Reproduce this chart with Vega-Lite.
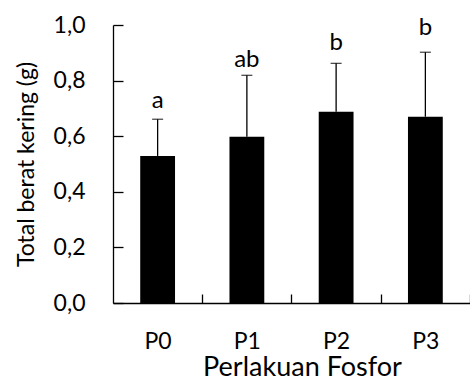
{
  "$schema": "https://vega.github.io/schema/vega-lite/v6.json",
  "width": 357,
  "height": 278,
  "autosize": "none",
  "padding": {"left": 113, "top": 25, "right": 0, "bottom": 78},
  "background": "white",
  "data": {"values": [
    {"p": "P0", "value": 0.529, "upper": 0.661, "letter": "a", "label_y": 0.700},
    {"p": "P1", "value": 0.598, "upper": 0.819, "letter": "ab", "label_y": 0.850},
    {"p": "P2", "value": 0.688, "upper": 0.862, "letter": "b", "label_y": 0.910},
    {"p": "P3", "value": 0.670, "upper": 0.902, "letter": "b", "label_y": 0.964}
  ]},
  "config": {
    "view": {"stroke": null},
    "font": "Lato",
    "axis": {"grid": false, "domainColor": "black", "tickColor": "black", "domainWidth": 1.3, "tickWidth": 1.3, "labelColor": "black", "titleColor": "black", "labelFont": "Lato", "titleFont": "Lato", "labelFontSize": 23, "titleFontSize": 23, "titleFontWeight": "normal"}
  },
  "encoding": {
    "x": {"field": "p", "type": "nominal", "title": "Perlakuan Fosfor",
      "scale": {"paddingInner": 0.61, "paddingOuter": 0.305},
      "axis": {"labelAngle": 0, "tickOffset": 44.6, "labelOffset": -44.6, "tickSize": -9, "labelPadding": 36, "titlePadding": 1, "titleFontSize": 27, "titleX": 189}}
  },
  "layer": [
    {"mark": {"type": "bar", "color": "black"},
     "encoding": {"y": {"field": "value", "type": "quantitative", "title": "Total berat kering (g)",
       "scale": {"domain": [0, 1], "nice": false},
       "axis": {"values": [0, 0.2, 0.4, 0.6, 0.8, 1.0], "labelExpr": "replace(format(datum.value, '.1f'), '.', ',')", "tickSize": -10, "labelPadding": 38, "titlePadding": 15}}}},
    {"mark": {"type": "rule", "color": "black", "strokeWidth": 1.3},
     "encoding": {"y": {"field": "value", "type": "quantitative"}, "y2": {"field": "upper"}}},
    {"mark": {"type": "tick", "color": "black", "thickness": 1.3, "size": 11, "orient": "horizontal"},
     "encoding": {"y": {"field": "upper", "type": "quantitative"}}},
    {"mark": {"type": "text", "color": "black", "fontSize": 24, "font": "Lato", "baseline": "alphabetic"},
     "encoding": {"y": {"field": "label_y", "type": "quantitative"}, "text": {"field": "letter"}}}
  ]
}
